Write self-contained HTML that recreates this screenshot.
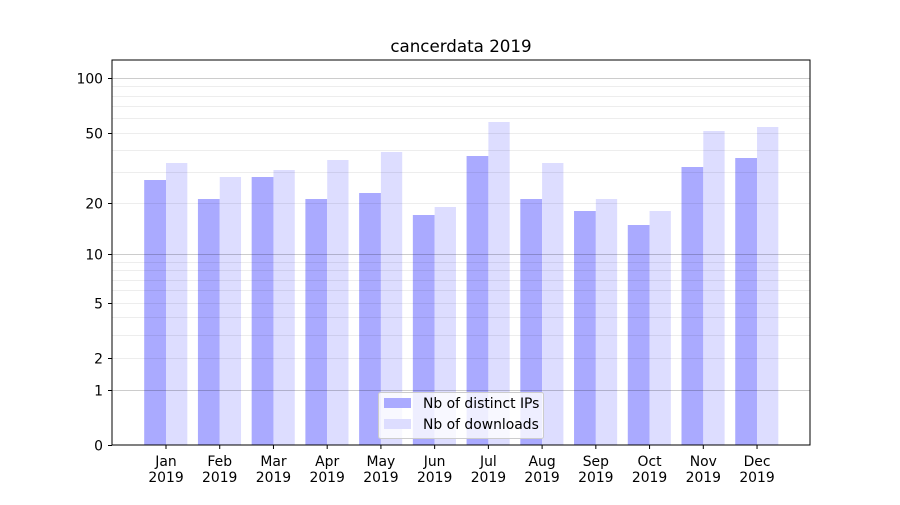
<!DOCTYPE html>
<html><head><meta charset="utf-8"><style>
html,body{margin:0;padding:0;background:#fff;}
svg text{font-family:"DejaVu Sans","Liberation Sans",sans-serif;font-size:13.9px;fill:#000;}
</style></head><body>
<svg id="s" width="900" height="500" xmlns="http://www.w3.org/2000/svg">
<rect width="900" height="500" fill="#fff"/>
<g id="bars"></g>
<g id="grid"></g>
<rect x="112" y="60" width="698" height="385" fill="none" stroke="#000" stroke-width="1"/>
<g id="ticks"></g>
<text x="461" y="52" text-anchor="middle" style="font-size:16.7px">cancerdata 2019</text>
<rect x="378.5" y="392.5" width="165" height="46" rx="2" fill="rgba(255,255,255,0.8)" stroke="#ccc"/>
<rect x="384" y="398" width="27" height="10" fill="#aaaaff"/>
<rect x="384" y="419" width="27" height="10" fill="#ddddff"/>
<text x="423" y="408">Nb of distinct IPs</text>
<text x="423" y="429">Nb of downloads</text>
</svg>
<script>
var ns="http://www.w3.org/2000/svg";
function el(p,t,a,txt){var e=document.createElementNS(ns,t);for(var k in a)e.setAttribute(k,a[k]);if(txt)e.textContent=txt;document.getElementById(p).appendChild(e);}
function Y(v){return 445-183*Math.log10(v+1);}
var dark=[180,199,177,199,193,215,156,199,211,225,167,158];
var light=[163,177,170,160,152,207,122,163,199,211,131,127];
var m=["Jan","Feb","Mar","Apr","May","Jun","Jul","Aug","Sep","Oct","Nov","Dec"];
for(var i=0;i<12;i++){
 var c=166+i*53.73;
 el("bars","rect",{x:c-21.8,y:dark[i],width:21.8,height:445-dark[i],fill:"#aaaaff"});
 el("bars","rect",{x:c,y:light[i],width:21.3,height:445-light[i],fill:"#ddddff"});
 el("ticks","line",{x1:c,x2:c,y1:445,y2:449,stroke:"#000"});
 el("ticks","text",{x:c,y:466,"text-anchor":"middle"},m[i]);
 el("ticks","text",{x:c,y:482,"text-anchor":"middle"},"2019");
}
var minors=[2,3,4,5,6,7,8,9,20,30,40,50,60,70,80,90];
minors.forEach(function(v){var y=Math.round(Y(v))+0.5;el("grid","line",{x1:112,x2:810,y1:y,y2:y,stroke:"rgba(0,0,0,0.07)"});});
[1,10,100].forEach(function(v){var y=Math.round(Y(v))+0.5;el("grid","line",{x1:112,x2:810,y1:y,y2:y,stroke:"rgba(0,0,0,0.2)"});});
[0,1,2,5,10,20,50,100].forEach(function(v){var y=Math.round(Y(v))+0.5;el("ticks","line",{x1:108,x2:112,y1:y,y2:y,stroke:"#000"});el("ticks","text",{x:103,y:y+5,"text-anchor":"end"},String(v));});
</script>
</body></html>
